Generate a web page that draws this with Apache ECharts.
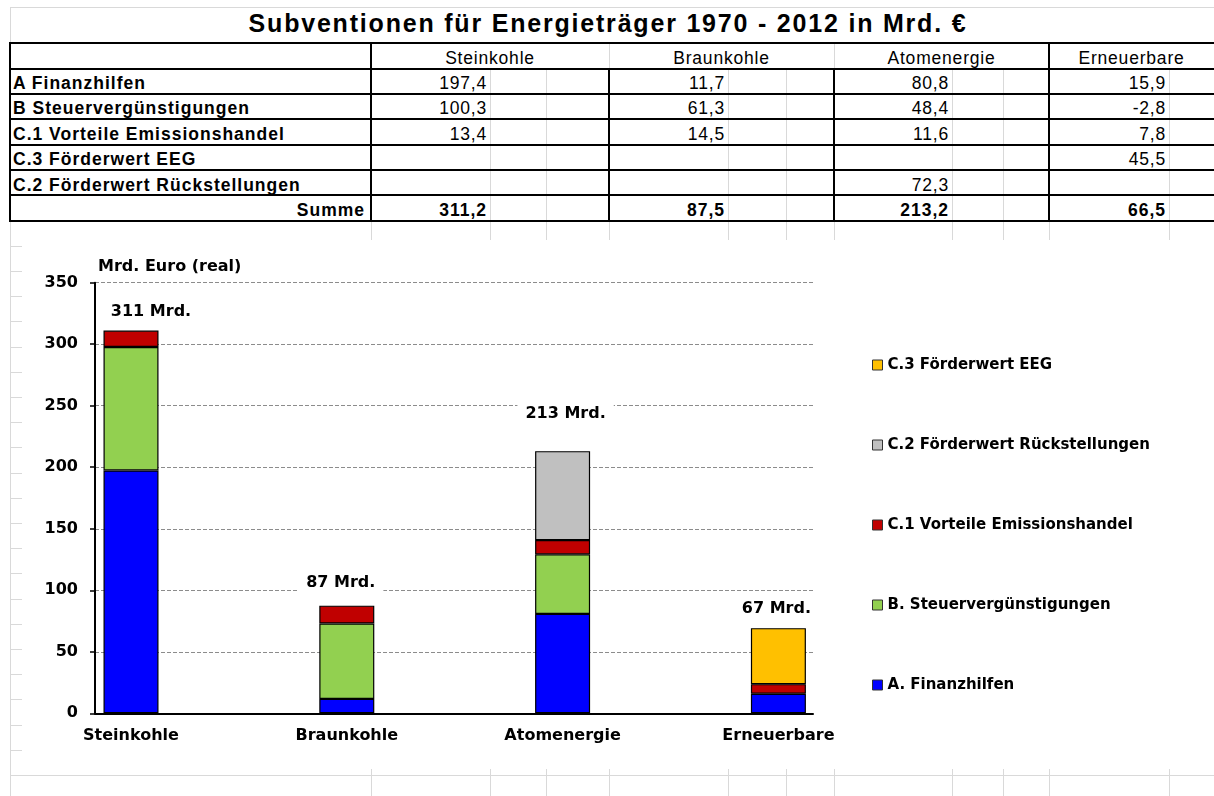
<!DOCTYPE html>
<html lang="de">
<head>
<meta charset="utf-8">
<title>Subventionen für Energieträger 1970 - 2012</title>
<script src="https://cdn.jsdelivr.net/npm/echarts@6/dist/echarts.min.js"></script>
<style>
  html, body {
    margin: 0;
    padding: 0;
    background: #fff;
  }
  body {
    width: 1214px;
    height: 796px;
    position: relative;
    overflow: hidden;
    font-family: "Liberation Sans", Arial, sans-serif;
    color: #000;
  }
  .gl { position: absolute; background: #d9d9d9; }
  .wh { position: absolute; background: #fff; }
  .bl { position: absolute; background: #000; }
  .cell {
    position: absolute;
    box-sizing: border-box;
    height: 25px;
    line-height: 25px;
    white-space: nowrap;
    font-size: 17.5px;
    letter-spacing: 0.8px;
  }
  .bold { font-weight: bold; letter-spacing: 1px; }
  #title {
    position: absolute;
    left: 8px;
    top: 5px;
    width: 1200px;
    height: 36px;
    line-height: 36px;
    text-align: center;
    font-size: 25px;
    font-weight: bold;
    letter-spacing: 1.8px;
    white-space: nowrap;
  }
  #chartBox {
    position: absolute;
    left: 22px;
    top: 240px;
    width: 1192px;
    height: 529px;
    background: #fff;
  }
  #chart { width: 100%; height: 100%; }
</style>
</head>
<body>
<div id="title">Subventionen für Energieträger 1970 - 2012 in Mrd. €</div>
<div id="chartBox"><div id="chart"></div></div>
<script>
// Daten (Mrd. €)
const categories = ['Steinkohle', 'Braunkohle', 'Atomenergie', 'Erneuerbare']
const finanzhilfen = [197.4, 11.7, 80.8, 15.9]
const steuerverguenstigungen = [100.3, 61.3, 48.4, -2.8]
const emissionshandel = [13.4, 14.5, 11.6, 7.8]
const foerderwertEEG = [null, null, null, 45.5]
const rueckstellungen = [null, null, 72.3, null]
const summen = [311.2, 87.5, 213.2, 66.5]
const summenLabels = ['311 Mrd.', '87 Mrd.', '213 Mrd.', '67 Mrd.']

// Tabellenzeilen (Reihenfolge wie im Blatt)
const tableLabels = ['A Finanzhilfen', 'B Steuervergünstigungen', 'C.1 Vorteile Emissionshandel', 'C.3 Förderwert EEG', 'C.2 Förderwert Rückstellungen']
const tableValues = [finanzhilfen, steuerverguenstigungen, emissionshandel, foerderwertEEG, rueckstellungen]

// Legende / Serien
const seriesNames = ['A. Finanzhilfen', 'B. Steuervergünstigungen', 'C.1 Vorteile Emissionshandel', 'C.2 Förderwert Rückstellungen', 'C.3 Förderwert EEG']
const seriesData = [finanzhilfen, steuerverguenstigungen, emissionshandel, rueckstellungen, foerderwertEEG]
const seriesColors = ['#0000ff', '#92d050', '#c00000', '#c0c0c0', '#ffc000']

// y-Achse
const yMin = 0
const yMax = 350
const yStep = 50

// ---- Tabellenblatt ----
const colX = [10, 371, 490, 546, 609, 728, 786, 834, 952, 1003, 1049, 1169]
const tableTop = 43.3
const rowH = 25.34
const sheetRowH = 25.2
const pageW = 1214
const pageH = 796

const rowY = [7]
for (let k = 0; k <= 7; k++) rowY.push(tableTop + k * rowH)
let yy = rowY[rowY.length - 1] + sheetRowH
while (yy < pageH) {
  rowY.push(yy)
  yy += sheetRowH
}

const box = (cls, x, y, w, h) => {
  const d = document.createElement('div')
  d.className = cls
  d.style.left = x + 'px'
  d.style.top = y + 'px'
  d.style.width = w + 'px'
  d.style.height = h + 'px'
  document.body.insertBefore(d, document.getElementById('title'))
  return d
}

// graue Gitterlinien
colX.forEach(x => box('gl', x, 7, 1, pageH - 7))
rowY.forEach(y => box('gl', 10, Math.round(y), pageW - 10, 1))

// verbundene Zellen: Titelzeile und Kopfzeile
box('wh', 11, 8, pageW - 11, 35)
const groups = [[371, 609], [609, 834], [834, 1049], [1049, pageW]]
groups.forEach(([a, b]) => box('wh', a + 1, Math.round(tableTop) + 1, b - a - 1, 24))

// schwarze Rahmen
for (let k = 0; k <= 7; k++) {
  box('bl', 10, Math.round(tableTop + k * rowH) - 1, pageW - 10, 2)
}
const tableBottom = Math.round(tableTop + 7 * rowH)
;[10, 371, 1049].forEach(x => box('bl', x - 1, Math.round(tableTop) - 1, 2, tableBottom - Math.round(tableTop) + 2))
;[609, 834].forEach(x => box('bl', x - 1, Math.round(tableTop + rowH) - 1, 2, tableBottom - Math.round(tableTop + rowH) + 2))

const fmt = v => (v === null || v === undefined) ? '' : v.toFixed(1).replace('.', ',')

const addText = (txt, x, y, w, align, bold) => {
  const d = document.createElement('div')
  d.className = 'cell' + (bold ? ' bold' : '')
  d.style.left = x + 'px'
  d.style.top = (y + 2.5) + 'px'
  d.style.width = w + 'px'
  d.style.textAlign = align
  if (align === 'left') d.style.paddingLeft = '3px'
  if (align === 'right') d.style.paddingRight = '3px'
  d.textContent = txt
  document.body.appendChild(d)
}

// Kopfzeile
categories.forEach((c, i) => {
  const [a, b] = groups[i]
  addText(c, a, tableTop, b - a, 'center', false)
})

// Datenzeilen
const valueCols = [[371, 490], [609, 728], [834, 952], [1049, 1169]]
tableLabels.forEach((label, r) => {
  const y = tableTop + (r + 1) * rowH
  addText(label, 10, y, 361, 'left', true)
  tableValues[r].forEach((v, i) => {
    const [a, b] = valueCols[i]
    addText(fmt(v), a, y, b - a, 'right', false)
  })
})

// Summenzeile
const sumY = tableTop + 6 * rowH
addText('Summe', 10, sumY, 358, 'right', true)
summen.forEach((v, i) => {
  const [a, b] = valueCols[i]
  addText(fmt(v), a, sumY, b - a, 'right', true)
})

// ---- Diagramm ----
const chartFont = '"DejaVu Sans", Verdana, sans-serif'

// obere Kante jedes Stapels (nur positive Anteile)
const stackTop = categories.map((c, i) =>
  seriesData.reduce((s, arr) => s + (arr[i] > 0 ? arr[i] : 0), 0)
)

const labelOffsets = [[20, -19], [-6, -23], [3, -37], [-2, -19]]

const chart = echarts.init(document.getElementById('chart'))

const barSeries = seriesNames.map((name, k) => ({
  name: name,
  type: 'bar',
  stack: 'summe',
  barWidth: 55,
  xAxisIndex: 1,
  yAxisIndex: 1,
  data: seriesData[k],
  itemStyle: {
    color: seriesColors[k],
    borderColor: '#000',
    borderWidth: 1.2
  },
  emphasis: { disabled: true },
  z: 3
}))

const labelStyle = {
  color: '#000',
  fontFamily: chartFont,
  fontWeight: 'bold',
  fontSize: 16
}

const option = {
  animation: false,
  backgroundColor: '#fff',
  // grid 0: Rahmen mit Achsen, grid 1: Säulen (Kategorien breiter verteilt als die Achse)
  grid: [
    {
      left: 73,
      top: 42.7,
      width: 718,
      height: 430.6,
      containLabel: false,
      outerBoundsMode: 'none'
    },
    {
      left: 1.1,
      top: 42.7,
      width: 863.2,
      height: 430.6,
      containLabel: false,
      outerBoundsMode: 'none'
    }
  ],
  legend: {
    orient: 'vertical',
    left: 850,
    top: 115,
    padding: 0,
    data: seriesNames.slice().reverse(),
    icon: 'rect',
    itemWidth: 10,
    itemHeight: 10,
    itemGap: 60,
    selectedMode: false,
    itemStyle: {
      borderColor: '#333',
      borderWidth: 1
    },
    textStyle: {
      ...labelStyle,
      fontSize: 15,
      lineHeight: 20
    }
  },
  xAxis: [
    {
      type: 'value',
      gridIndex: 0,
      min: 0,
      max: 1,
      splitLine: { show: false },
      axisTick: { show: false },
      axisLabel: { show: false },
      axisLine: {
        onZero: true,
        lineStyle: { color: '#000', width: 2 }
      }
    },
    {
      type: 'category',
      gridIndex: 1,
      data: categories,
      boundaryGap: true,
      axisLine: { show: false },
      axisTick: { show: false },
      splitLine: { show: false },
      axisLabel: {
        ...labelStyle,
        interval: 0,
        margin: 15
      }
    }
  ],
  yAxis: [
    {
      type: 'value',
      gridIndex: 0,
      min: yMin,
      max: yMax,
      interval: yStep,
      name: 'Mrd. Euro (real)',
      nameLocation: 'end',
      nameGap: 8,
      nameTextStyle: {
        ...labelStyle,
        align: 'left',
        verticalAlign: 'bottom',
        padding: [0, 0, 0, 3]
      },
      axisLine: {
        show: true,
        onZero: false,
        lineStyle: { color: '#000', width: 2 }
      },
      axisTick: {
        show: true,
        inside: false,
        length: 5,
        lineStyle: { color: '#000', width: 1.5 }
      },
      axisLabel: {
        ...labelStyle,
        margin: 17
      },
      splitLine: {
        show: true,
        lineStyle: {
          color: '#8c8c8c',
          width: 1,
          type: [4, 2]
        }
      }
    },
    {
      type: 'value',
      gridIndex: 1,
      min: yMin,
      max: yMax,
      interval: yStep,
      show: false
    }
  ],
  series: [
    ...barSeries,
    {
      name: 'Summe',
      type: 'scatter',
      xAxisIndex: 1,
      yAxisIndex: 1,
      symbolSize: 0,
      silent: true,
      z: 5,
      itemStyle: { opacity: 1 },
      data: stackTop.map((v, i) => ({
        value: [i, v],
        label: { offset: labelOffsets[i] }
      })),
      label: {
        ...labelStyle,
        show: true,
        position: 'inside',
        formatter: p => summenLabels[p.dataIndex],
        backgroundColor: '#fff',
        padding: [6, 8]
      }
    }
  ]
}

chart.setOption(option)
</script>
</body>
</html>
